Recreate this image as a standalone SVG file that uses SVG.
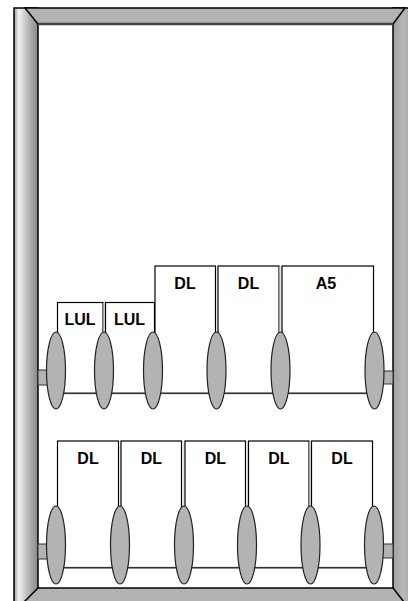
<svg xmlns="http://www.w3.org/2000/svg" width="408" height="601" viewBox="0 0 408 601">
<defs>
<linearGradient id="gl" x1="0" y1="0" x2="1" y2="0">
<stop offset="0" stop-color="#9a9a9a"/>
<stop offset="0.2" stop-color="#f2f2f2"/>
<stop offset="0.55" stop-color="#bdbdbd"/>
<stop offset="1" stop-color="#878787"/>
</linearGradient>
<linearGradient id="gr" x1="0" y1="0" x2="1" y2="0">
<stop offset="0" stop-color="#a0a0a0"/>
<stop offset="0.35" stop-color="#b8b8b8"/>
<stop offset="1" stop-color="#8a8a8a"/>
</linearGradient>
<style>
.bar{fill:#b3b3b3;stroke:#000;stroke-width:1.5;stroke-linejoin:miter}
.card{fill:#fff;stroke:#000;stroke-width:1.2}
.gap{fill:#e4e4e4;stroke:none}
.rod{fill:#b3b3b3;stroke:#333;stroke-width:1}
.ring{fill:#b3b3b3;stroke:#222;stroke-width:1.2}
.base{stroke:#333;stroke-width:1.5;fill:none}
.lbl{font-family:"Liberation Sans",Arial,sans-serif;font-weight:bold;font-size:16px;fill:#000;text-anchor:middle}
</style>
</defs>
<rect width="408" height="601" fill="#fff"/>
<g id="frame">
<rect x="14" y="8" width="24" height="610" fill="url(#gl)" stroke="#000" stroke-width="1.5"/>
<rect x="393" y="8" width="30" height="610" fill="url(#gr)" stroke="#000" stroke-width="1.5"/>
<polygon class="bar" points="25,8 405,8 393,24 38,24"/>
<line x1="38" y1="24" x2="393" y2="24" stroke="#444" stroke-width="2.5"/>
<polygon class="bar" points="38,588 393,588 404,602 24,602"/>
</g>
<g id="row1-rods">
<rect class="rod" x="38" y="370" width="14" height="15"/>
<rect class="rod" x="380" y="371" width="13" height="13"/>
</g>
<g id="row2-rods">
<rect class="rod" x="38" y="544" width="14" height="15"/>
<rect class="rod" x="380" y="544" width="13" height="14"/>
</g>
<g id="card-lul1"><rect class="card" x="57.5" y="302.5" width="45.5" height="91"/><text class="lbl" x="80" y="325">LUL</text></g>
<g id="card-lul2"><rect class="gap" x="103.5" y="303" width="1.5" height="30"/><rect class="card" x="105.5" y="302.5" width="49" height="91"/><text class="lbl" x="129.5" y="325">LUL</text></g>
<g id="card-dl1"><rect class="card" x="155" y="266" width="60.5" height="127.5"/><text class="lbl" x="185" y="289">DL</text></g>
<g id="card-dl2"><rect class="gap" x="216" y="266.5" width="1.5" height="66"/><rect class="card" x="218" y="266" width="61" height="127.5"/><text class="lbl" x="248.5" y="289">DL</text></g>
<g id="card-a5"><rect class="gap" x="279.5" y="266.5" width="2" height="66"/><rect class="card" x="282" y="266" width="91.5" height="127.5"/><text class="lbl" x="326" y="289">A5</text></g>
<g id="card-dl3"><rect class="card" x="57.5" y="441" width="61" height="126.5"/><text class="lbl" x="88" y="463.5">DL</text></g>
<g id="card-dl4"><rect class="gap" x="119" y="441.5" width="1.5" height="66"/><rect class="card" x="121" y="441" width="60.5" height="126.5"/><text class="lbl" x="151.3" y="463.5">DL</text></g>
<g id="card-dl5"><rect class="gap" x="182" y="441.5" width="2.5" height="66"/><rect class="card" x="185" y="441" width="60.5" height="126.5"/><text class="lbl" x="215.3" y="463.5">DL</text></g>
<g id="card-dl6"><rect class="gap" x="246" y="441.5" width="2" height="66"/><rect class="card" x="248.5" y="441" width="60.5" height="126.5"/><text class="lbl" x="278.8" y="463.5">DL</text></g>
<g id="card-dl7"><rect class="gap" x="309.5" y="441.5" width="1.5" height="66"/><rect class="card" x="311.5" y="441" width="61" height="126.5"/><text class="lbl" x="342" y="463.5">DL</text></g>
<g id="connectors">
<line class="base" x1="56" y1="393.3" x2="374.5" y2="393.3"/>
<line class="base" x1="56" y1="567.7" x2="374" y2="567.7"/>
</g>
<g id="rings-row1">
<ellipse class="ring" cx="56" cy="370.5" rx="9.5" ry="38.5"/>
<ellipse class="ring" cx="104" cy="370.5" rx="9.5" ry="38.5"/>
<ellipse class="ring" cx="153" cy="370.5" rx="9.5" ry="38.5"/>
<ellipse class="ring" cx="216.5" cy="370.5" rx="9.5" ry="38.5"/>
<ellipse class="ring" cx="280.5" cy="370.5" rx="9.5" ry="38.5"/>
<ellipse class="ring" cx="374.5" cy="370.5" rx="9.5" ry="38.5"/>
</g>
<g id="rings-row2">
<ellipse class="ring" cx="56" cy="545" rx="9.5" ry="39"/>
<ellipse class="ring" cx="120" cy="545" rx="9.5" ry="39"/>
<ellipse class="ring" cx="184" cy="545" rx="9.5" ry="39"/>
<ellipse class="ring" cx="247" cy="545" rx="9.5" ry="39"/>
<ellipse class="ring" cx="310.5" cy="545" rx="9.5" ry="39"/>
<ellipse class="ring" cx="374" cy="545" rx="9.5" ry="39"/>
</g>
</svg>
